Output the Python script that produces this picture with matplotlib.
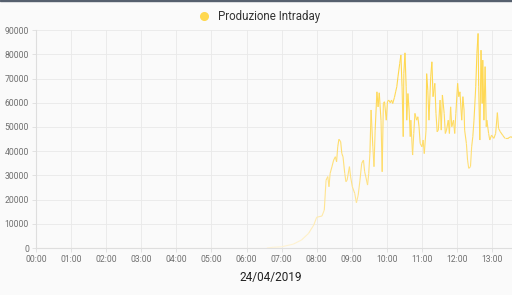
import matplotlib
matplotlib.use('Agg')
import matplotlib.pyplot as plt
import numpy as np
from matplotlib.collections import LineCollection
from matplotlib.colors import LinearSegmentedColormap
from matplotlib.lines import Line2D
from matplotlib.patches import Rectangle

plt.rcParams['font.family'] = ['Roboto', 'DejaVu Sans']

# minuti dalla mezzanotte (10 per riga)
minuti = [0, 395, 405, 420, 440, 454, 466, 475, 480, 489,
          493, 496, 499, 501, 503, 506, 509, 512, 514, 516,
          518, 521, 523, 525, 528, 530, 532, 536, 538, 541,
          545, 548, 551, 554, 557, 560, 562, 564, 567, 569,
          571, 573, 576, 578, 580, 583, 585, 587, 590, 592,
          594, 596, 599, 601, 603, 606, 608, 610, 613, 615,
          617, 619, 622, 624, 626, 628, 629, 631, 633, 634,
          636, 638, 640, 641, 644, 646, 648, 651, 653, 655,
          657, 660, 662, 664, 667, 668, 670, 672, 675, 677,
          679, 682, 684, 686, 688, 691, 693, 695, 698, 700,
          702, 705, 707, 709, 711, 714, 716, 718, 721, 723,
          725, 728, 730, 732, 733, 736, 738, 740, 743, 745,
          747, 749, 752, 754, 756, 757, 759, 761, 763, 764,
          766, 768, 770, 771, 774, 776, 779, 783, 786, 789,
          791, 794, 798, 802, 807, 812, 816]
produzione = [0, 0, 300, 500, 1600, 3300, 6000, 9500, 12700, 13200,
              15700, 28000, 29500, 25300, 30800, 33500, 36300, 37700, 35600, 41800,
              44900, 43900, 39000, 37700, 30800, 27400, 28000, 33600, 29400, 25300,
              22600, 18700, 21900, 28000, 35000, 36300, 31500, 29400, 26000, 30800,
              39000, 57000, 41800, 33600, 48700, 64500, 58300, 64100, 52800, 31500,
              59700, 60400, 52800, 60400, 61100, 60000, 61100, 59700, 62200, 64500,
              66600, 70700, 76200, 79700, 66600, 46000, 72000, 80600, 66600, 52800,
              63800, 57000, 46000, 52800, 38400, 47300, 55600, 52800, 54200, 50100,
              43200, 41800, 44600, 39000, 48700, 72000, 65200, 52800, 70700, 76900,
              62500, 68000, 55600, 48000, 48700, 61100, 48700, 63200, 55600, 47300,
              48700, 52800, 47300, 58300, 50100, 52800, 47300, 55600, 68000, 62500,
              64500, 52800, 62500, 57000, 48700, 43200, 36300, 32900, 33600, 41800,
              46000, 52800, 66600, 80400, 88600, 66600, 44600, 81700, 59700, 77600,
              52800, 74900, 50100, 52800, 47300, 44600, 46600, 45300, 47300, 55900,
              49400, 48000, 46600, 45300, 45300, 46000, 45300]

ore_ticks = list(range(0, 14))
etichette_x = ['%02d:00' % h for h in ore_ticks]
valori_y = list(range(0, 90001, 10000))

fig = plt.figure(figsize=(5.12, 2.95), dpi=100)
fig.patch.set_facecolor('#fafafa')
fig.patches.append(Rectangle((0, 0.995), 1, 0.005, transform=fig.transFigure,
                             color='#56606e', zorder=5))
ax = fig.add_axes([0.0703, 0.1593, 0.9297, 0.7387])
ax.set_facecolor('#fafafa')

x = np.array(minuti, dtype=float)
y = np.array(produzione, dtype=float)
punti = np.column_stack([x, y]).reshape(-1, 1, 2)
segmenti = np.concatenate([punti[:-1], punti[1:]], axis=1)
cmap = LinearSegmentedColormap.from_list('giallo', ['#fff4d6', '#ffe38c', '#ffdc66', '#ffd84f'])
lc = LineCollection(segmenti, cmap=cmap, norm=plt.Normalize(0, 70000), linewidth=0.8)
lc.set_array((y[:-1] + y[1:]) / 2)
ax.add_collection(lc)

ax.set_xlim(0, 814)
ax.set_ylim(0, 90000)
ax.set_xticks([h * 60 for h in ore_ticks])
ax.set_xticklabels(etichette_x)
ax.set_yticks(valori_y)
ax.set_yticklabels([str(v) for v in valori_y])
ax.grid(True, color='#e9e9e9', linewidth=0.6)
ax.set_axisbelow(True)
for s in ['top', 'right']:
    ax.spines[s].set_visible(False)
for s in ['left', 'bottom']:
    ax.spines[s].set_color('#dedede')
    ax.spines[s].set_linewidth(0.8)
ax.tick_params(axis='both', labelsize=6.2, colors='#dedede', labelcolor='#707070',
               length=3, width=0.6, pad=2)

fig.legend(handles=[Line2D([], [], marker='o', linestyle='none', markersize=5.5,
                           markerfacecolor='#ffd84f', markeredgecolor='#ffd84f')],
           labels=['Produzione Intraday'], loc='center', bbox_to_anchor=(0.5, 0.944),
           frameon=False, fontsize=8.3, handletextpad=0.2, labelcolor='#333333')
fig.text(0.529, 0.058, '24/04/2019', ha='center', va='center', fontsize=8.5, color='#222222')

fig.savefig('out.png', dpi=100, facecolor=fig.get_facecolor())
